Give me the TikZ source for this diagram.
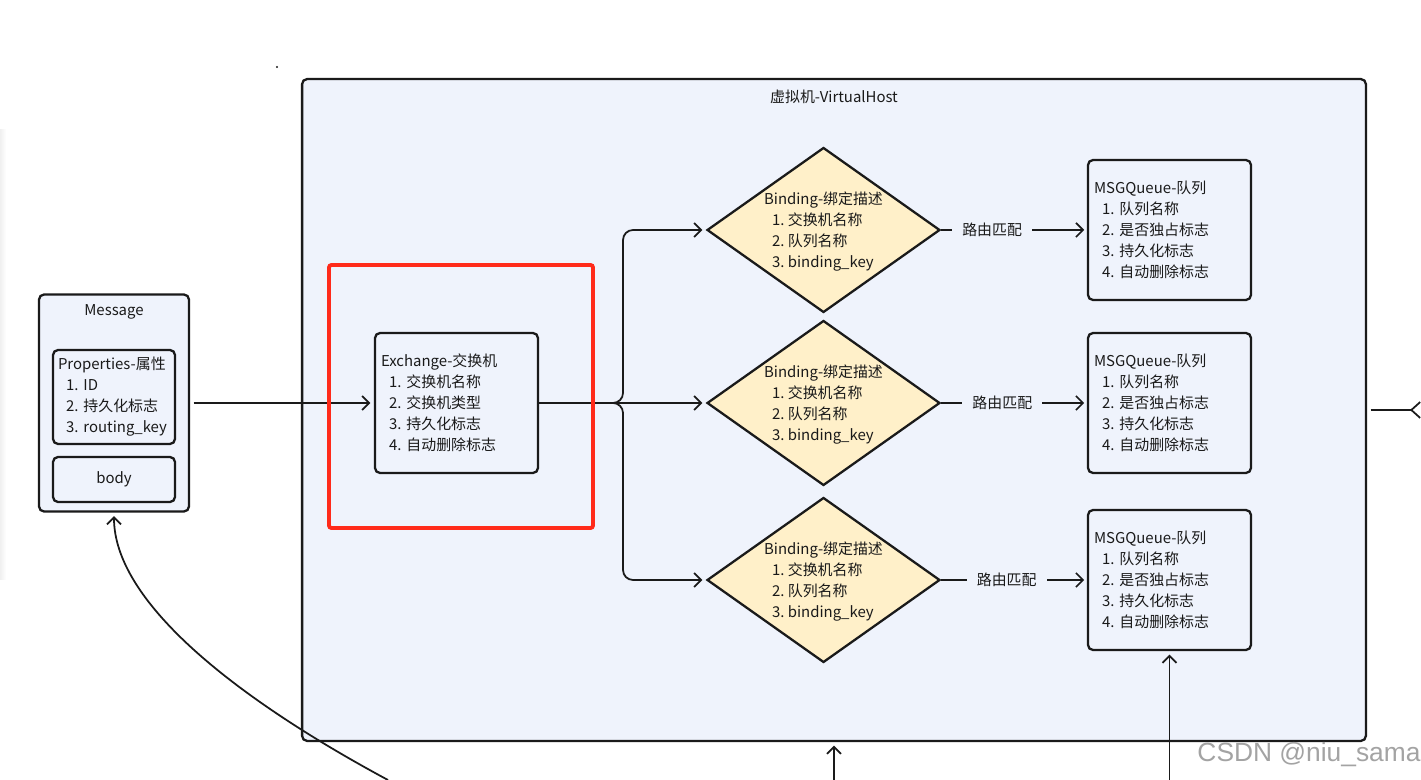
\documentclass[tikz,border=0pt]{standalone}
\usepackage{fontspec}
\setmainfont{Noto Sans CJK SC}
\newfontfamily\wmfont{Liberation Sans}
\usepackage{xcolor}
\usepackage{tikz}
\usetikzlibrary{arrows.meta,shapes.geometric}
\definecolor{ink}{HTML}{1A1A1A}
\definecolor{hostbg}{HTML}{EFF3FC}
\definecolor{bindbg}{HTML}{FFF0C9}
\definecolor{mark}{HTML}{FF2A1A}
\definecolor{wm}{HTML}{A3A3A3}
\newcommand{\ind}{\hspace*{0.16cm}}
\frenchspacing
\tikzset{
  host/.style={draw=ink, fill=hostbg, line width=1.3pt, rounded corners=0.1cm, minimum width=21.28cm, minimum height=13.24cm, inner sep=0pt},
  box/.style={draw=ink, fill=hostbg, line width=1.3pt, rounded corners=0.1cm, inner sep=0pt, text=ink, font=\fontsize{8.5}{11.95}\selectfont},
  card/.style={box, minimum width=3.26cm, minimum height=2.8cm, align=left, text width=3.02cm, inner xsep=0.12cm},
  bind/.style={diamond, draw=ink, fill=bindbg, line width=1.3pt, minimum width=4.66cm, minimum height=3.3cm, inner sep=0pt},
  txt/.style={text=ink, font=\fontsize{8.5}{11.95}\selectfont, align=left, inner sep=0pt},
  conn/.style={draw=ink, line width=1pt},
  arr/.style={conn, -{Straight Barb[length=4pt,width=8pt]}},
  hilite/.style={draw=mark, line width=2.2pt, rounded corners=0.05cm},
}

\begin{document}
\begin{tikzpicture}[x=0.02cm, y=-0.02cm]
  \useasboundingbox (0,0) rectangle (1421,780);
  \fill[left color=black!6, right color=white] (0,130) rectangle (6,580);
  \fill[ink] (277,67) circle (1.2);

  \node[host] (vhost) at (834,410) {};
  \node[txt] (vtitle) at (834,97) {虚拟机-VirtualHost};

  % message
  \node[box, minimum width=3cm, minimum height=4.34cm] (msg) at (114,403) {};
  \node[txt] (msgt) at (114,312) {Message};
  \node[box, minimum width=2.44cm, minimum height=1.88cm, align=left, text width=2.24cm, inner xsep=0.1cm] (props) at (114,397)
    {Properties-属性\\ \ind 1. ID\\ \ind 2. 持久化标志\\ \ind 3. routing\_key};
  \node[box, minimum width=2.44cm, minimum height=0.9cm] (body) at (114,479.5) {body};

  \node[card] (ex) at (456.5,403)
    {Exchange-交换机\\ \ind 1. 交换机名称\\ \ind 2. 交换机类型\\ \ind 3. 持久化标志\\ \ind 4. 自动删除标志};

  \foreach \i/\y in {1/230, 2/403, 3/580} {
    \node[bind] (b\i) at (823.5,\y) {};
    \node[txt] (bt\i) at (823.5,\y+2) {Binding-绑定描述\\ \ind 1. 交换机名称\\ \ind 2. 队列名称\\ \ind 3. binding\_key};
    \node[card] (q\i) at (1169.5,\y) {MSGQueue-队列\\ \ind 1. 队列名称\\ \ind 2. 是否独占标志\\ \ind 3. 持久化标志\\ \ind 4. 自动删除标志};
  }

  \coordinate (split) at (623,403);
  \draw[arr, shorten <=2pt, shorten >=2pt] (msg.east) -- (ex.west);
  \draw[arr, rounded corners=0.2cm, shorten >=2pt] (ex.east) -- (split) |- (b1.west);
  \draw[arr, shorten >=2pt] (ex.east) -- (b2.west);
  \draw[arr, rounded corners=0.2cm, shorten >=2pt] (ex.east) -- (split) |- (b3.west);

  \foreach \i/\p in {1/0.35, 2/0.42, 3/0.45}
    \draw[arr, shorten >=1.5pt] (b\i.east) -- node[pos=\p, txt, fill=hostbg, inner xsep=0.2cm] {路由匹配} (q\i.west);

  % outside links
  \coordinate (ext) at (1421,410);
  \coordinate (hin) at (834,780);
  \coordinate (qin) at (1169.5,780);
  \coordinate (min) at (388,780);
  \draw[conn, -{Straight Barb[reversed,length=5pt,width=9pt]}, shorten <=2pt] (vhost.east) -- (ext);
  \draw[arr, shorten >=2pt] (hin) -- (vhost.south);
  \draw[arr, shorten >=2pt] (qin) -- (q3.south);
  \draw[arr, shorten >=2pt] (min) .. controls (230,695) and (114,600) .. (msg.south);

  \draw[hilite] (329,265) rectangle (593,528);
  \node[font=\wmfont\fontsize{15}{15}\selectfont, text=wm] (wmark) at (1309,755) {CSDN @niu\_sama};
\end{tikzpicture}
\end{document}
